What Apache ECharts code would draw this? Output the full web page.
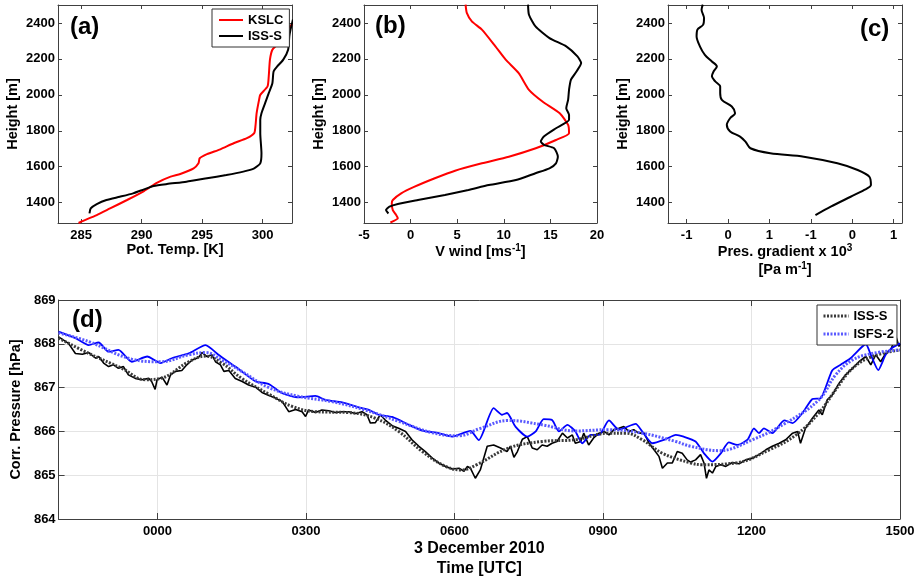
<!DOCTYPE html>
<html><head><meta charset="utf-8">
<script src="https://cdn.jsdelivr.net/npm/echarts@6/dist/echarts.min.js"></script>
<style>html,body{margin:0;padding:0;background:#fff}#c{width:921px;height:580px}</style>
</head><body><div id="c"></div>
<script>
// ---- tick definitions ----
const heightTicks = [1400,1600,1800,2000,2200,2400];
const tempTicks = [285,290,295,300];
const windTicks = [-5,0,5,10,15,20];
const gradTicks = [-1,0,1,2,3,4];
const gradTickLabels = ['-1','0','1','-1','0','1'];
const timeTicks = [0,3,6,9,12,15];
const timeTickLabels = ['0000','0300','0600','0900','1200','1500'];

// ---- (a) potential temperature profiles [K, m] ----
const kslcTemp = [[284.8,1287],[285.0,1294],[286.3,1331],[287.4,1368],[288.8,1415],[290.2,1465],[291.3,1512],[292.4,1545],[293.2,1560],[294.3,1591],[294.7,1619],[294.8,1647],[295.4,1670],[296.5,1697],[297.6,1731],[298.7,1759],[299.3,1787],[299.4,1824],[299.5,1898],[299.7,1972],[299.8,2000],[300.4,2047],[300.5,2103],[300.6,2196],[300.8,2251],[301.2,2279],[301.7,2316],[302.1,2372],[302.5,2395]];
const issTemp = [[285.7,1340],[285.8,1368],[286.3,1392],[287.1,1415],[288.2,1433],[289.3,1452],[290.2,1474],[291.0,1493],[292.1,1504],[293.7,1517],[295.4,1536],[297.0,1554],[298.4,1573],[299.3,1591],[299.8,1619],[299.9,1675],[299.8,1787],[299.8,1861],[299.9,1898],[300.2,1954],[300.5,2010],[300.8,2065],[300.9,2130],[301.2,2158],[301.7,2196],[302.1,2251],[302.2,2326],[302.3,2363],[302.5,2420]];

// ---- (b) V wind profiles [m/s, m] ----
const kslcWind = [[-2.17,1290],[-1.37,1313],[-1.55,1331],[-1.91,1359],[-2.02,1396],[-1.91,1415],[-1.01,1452],[0.43,1489],[2.6,1536],[4.77,1578],[7.65,1619],[10.54,1656],[13.43,1703],[15.6,1749],[17.0,1787],[16.9,1833],[16.0,1898],[14.15,1963],[12.7,2028],[11.6,2121],[10.2,2196],[9.1,2270],[7.65,2363],[6.57,2409],[6.03,2456],[5.9,2502]];
const issWind = [[-2.38,1340],[-2.64,1359],[-2.27,1378],[-1.37,1393],[0.79,1415],[3.68,1443],[6.2,1471],[8.4,1498],[11.3,1526],[13.4,1564],[14.9,1591],[15.6,1619],[15.8,1656],[15.4,1703],[14.3,1722],[13.97,1740],[14.3,1768],[15.6,1814],[17.0,1861],[17.0,1889],[16.7,1926],[16.9,1972],[17.0,2028],[17.2,2084],[17.8,2130],[18.3,2177],[17.9,2214],[16.7,2270],[14.9,2316],[13.4,2381],[12.7,2446],[12.6,2502]];

// ---- (c) pressure gradient profile [axis units, m] ----
const gradProfile = [[2.11,1331],[2.48,1378],[2.96,1433],[3.29,1471],[3.45,1498],[3.41,1545],[3.13,1582],[2.64,1619],[1.83,1656],[1.02,1675],[0.54,1703],[0.42,1740],[0.29,1768],[0.05,1796],[-0.03,1833],[0.05,1870],[0.17,1898],[0.09,1935],[-0.15,1972],[-0.19,2010],[-0.19,2047],[-0.31,2075],[-0.39,2103],[-0.35,2130],[-0.27,2158],[-0.39,2186],[-0.56,2223],[-0.68,2270],[-0.76,2326],[-0.74,2363],[-0.6,2391],[-0.58,2428],[-0.64,2474],[-0.61,2502]];

// ---- (d) corrected pressure time series [hours from 0000 UTC, hPa] ----
const issRaw = [[-2.0,868.16],[-1.8,868.01],[-1.66,867.78],[-1.52,867.76],[-1.39,867.80],[-1.25,867.67],[-1.19,867.71],[-1.09,867.56],[-0.99,867.48],[-0.89,867.52],[-0.79,867.44],[-0.69,867.48],[-0.59,867.29],[-0.45,867.21],[-0.32,867.18],[-0.18,867.21],[-0.12,867.14],[-0.05,866.96],[-0.01,867.18],[0.09,867.24],[0.19,867.06],[0.26,867.29],[0.36,867.37],[0.49,867.39],[0.59,867.52],[0.70,867.63],[0.83,867.69],[0.90,867.80],[1.0,867.71],[1.10,867.75],[1.17,867.59],[1.27,867.52],[1.34,867.37],[1.44,867.39],[1.57,867.21],[1.71,867.14],[1.84,867.06],[1.98,867.01],[2.11,866.89],[2.25,866.82],[2.38,866.76],[2.52,866.68],[2.65,866.45],[2.79,866.50],[2.92,866.45],[2.99,866.34],[3.05,866.49],[3.19,866.43],[3.32,866.49],[3.46,866.47],[3.59,866.43],[3.73,866.45],[3.86,866.45],[4.0,866.41],[4.13,866.45],[4.23,866.38],[4.30,866.19],[4.40,866.20],[4.50,866.38],[4.60,866.26],[4.74,866.13],[4.87,866.07],[5.01,866.0],[5.14,865.81],[5.28,865.66],[5.41,865.54],[5.55,865.39],[5.68,865.28],[5.82,865.20],[5.95,865.14],[6.09,865.16],[6.19,865.09],[6.26,865.20],[6.32,865.16],[6.42,864.93],[6.52,865.12],[6.66,865.66],[6.79,865.69],[6.93,865.62],[7.06,865.54],[7.13,865.66],[7.20,865.41],[7.27,865.54],[7.37,865.82],[7.47,865.88],[7.57,865.62],[7.67,865.58],[7.77,865.69],[7.87,865.66],[7.97,865.73],[8.07,865.77],[8.18,865.96],[8.28,865.85],[8.38,865.92],[8.44,865.73],[8.55,865.77],[8.61,865.96],[8.71,865.69],[8.81,865.85],[8.92,865.96],[9.02,866.0],[9.12,865.92],[9.22,866.04],[9.32,866.07],[9.42,866.11],[9.52,866.0],[9.62,866.04],[9.72,865.96],[9.83,865.96],[9.93,865.73],[10.03,865.58],[10.13,865.43],[10.20,865.16],[10.30,865.28],[10.40,865.28],[10.50,865.54],[10.60,865.50],[10.70,865.35],[10.77,865.30],[10.87,865.35],[10.97,865.47],[11.04,865.28],[11.09,864.93],[11.14,865.12],[11.21,865.05],[11.28,865.20],[11.38,865.24],[11.48,865.20],[11.61,865.29],[11.75,865.26],[11.88,865.35],[12.02,865.39],[12.15,865.47],[12.29,865.58],[12.42,865.66],[12.56,865.73],[12.69,865.81],[12.83,865.96],[12.93,866.0],[12.99,865.73],[13.09,866.07],[13.23,866.30],[13.36,866.49],[13.43,866.38],[13.53,866.72],[13.63,866.83],[13.77,867.10],[13.90,867.29],[14.04,867.44],[14.17,867.59],[14.31,867.71],[14.41,867.52],[14.51,867.75],[14.61,867.59],[14.71,867.78],[14.81,867.86],[14.92,868.16],[14.98,867.94],[15.0,868.0]];
const isfsRaw = [[-2.0,868.28],[-1.66,868.13],[-1.39,867.97],[-1.19,868.03],[-0.99,867.82],[-0.79,867.86],[-0.52,867.59],[-0.21,867.71],[0.06,867.56],[0.29,867.67],[0.63,867.78],[0.97,867.97],[1.23,867.75],[1.57,867.48],[1.98,867.14],[2.18,867.10],[2.28,867.06],[2.52,866.87],[2.85,866.78],[3.19,866.81],[3.39,866.72],[3.73,866.66],[4.13,866.53],[4.27,866.49],[4.47,866.38],[4.74,866.33],[5.08,866.15],[5.35,866.02],[5.68,865.96],[5.95,865.88],[6.32,866.01],[6.49,865.80],[6.79,866.53],[6.96,866.38],[7.06,866.42],[7.23,866.11],[7.47,865.88],[7.64,866.0],[7.80,866.28],[7.97,866.26],[8.11,866.0],[8.28,866.15],[8.44,866.0],[8.58,865.73],[8.75,865.92],[8.92,865.92],[9.12,866.25],[9.32,866.04],[9.66,866.17],[9.79,866.0],[10.0,865.73],[10.26,865.82],[10.47,865.92],[10.63,865.88],[10.87,865.77],[11.04,865.50],[11.21,865.31],[11.38,865.50],[11.54,865.75],[11.71,865.69],[11.92,865.81],[12.05,866.07],[12.15,865.96],[12.25,866.07],[12.42,865.96],[12.66,866.25],[12.83,866.19],[13.03,866.42],[13.23,866.74],[13.40,866.76],[13.63,867.39],[13.80,867.52],[14.0,867.67],[14.31,867.99],[14.41,867.75],[14.56,867.40],[14.71,867.75],[14.83,867.90],[15.0,868.01]];
const issSmooth = [[-2,868.13],[-1.39,867.78],[-0.72,867.44],[-0.25,867.18],[0.06,867.21],[0.63,867.59],[0.97,867.72],[1.3,867.56],[1.7,867.21],[2.25,866.85],[2.72,866.57],[3.19,866.45],[3.86,866.43],[4.4,866.3],[4.87,866.0],[5.35,865.54],[5.82,865.2],[6.15,865.12],[6.45,865.24],[7.09,865.62],[7.77,865.77],[8.44,865.81],[9.12,865.96],[9.46,865.96],[9.79,865.81],[10.2,865.5],[10.77,865.28],[11.0,865.24],[11.68,865.28],[12.36,865.58],[12.9,865.92],[13.36,866.42],[13.7,866.95],[14.04,867.44],[14.44,867.71],[15,867.86]];
const isfsSmooth = [[-2,868.25],[-1.39,868.05],[-0.52,867.65],[0.06,867.59],[0.63,867.75],[0.97,867.80],[1.3,867.63],[1.7,867.37],[2.25,867.0],[2.85,866.8],[3.52,866.68],[4.19,866.49],[4.87,866.23],[5.55,865.97],[6.09,865.9],[6.5,866.06],[7.09,866.25],[7.77,866.15],[8.44,866.01],[9.12,866.04],[9.79,865.96],[10.47,865.77],[10.77,865.66],[11.34,865.56],[12.02,865.81],[12.69,866.19],[13.36,866.72],[13.7,867.29],[14.04,867.63],[14.44,867.78],[15,867.86]];

// ---- styling & option construction ----
const F = "'Liberation Sans', Arial, Helvetica, sans-serif";
const AX = '#404040';
const lbl = {color:'#000', fontWeight:'bold', fontSize:13, fontFamily:F};
const nameStyle = {color:'#000', fontWeight:'bold', fontSize:14.5, fontFamily:F};
const supRich = {
  t:{color:'#000', fontWeight:'bold', fontSize:14.5, fontFamily:F, lineHeight:18},
  s:{color:'#000', fontWeight:'bold', fontSize:10, fontFamily:F, lineHeight:9, verticalAlign:'top'}
};

function ax(grid, pos, min, max, o) {
  o = o || {};
  const primary = (pos === 'bottom' || pos === 'left');
  const a = {
    type:'value', gridIndex:grid, position:pos, min:min, max:max,
    axisLine:{show:true, onZero:false, lineStyle:{color:AX, width:1}},
    axisTick:{show:true, inside:true, length:o.tickLen || 4, lineStyle:{color:AX, width:1}},
    axisLabel:Object.assign({show:primary, margin:o.margin || 4, formatter:v => String(v)}, lbl),
    splitLine:{show:!!o.split && primary, lineStyle:{color:'#e4e4e4', width:1}}
  };
  if (o.ticks) { a.axisTick.customValues = o.ticks; a.axisLabel.customValues = o.ticks; }
  if (o.interval) a.interval = o.interval;
  if (o.formatter) a.axisLabel.formatter = o.formatter;
  if (primary && o.name) {
    a.name = o.name; a.nameLocation = 'middle'; a.nameGap = o.nameGap;
    a.nameTextStyle = o.nameStyle || nameStyle;
  }
  return a;
}

const H0 = 1287, H1 = 2500;
const xAxis = [
  ax(0,'bottom',283.1,302.42,{ticks:tempTicks, name:'Pot. Temp. [K]', nameGap:17, margin:6}),
  ax(0,'top',283.1,302.42,{ticks:tempTicks}),
  ax(1,'bottom',-5,20,{interval:5, name:'{t|V wind [ms}{s|-1}{t|]}', nameGap:15, margin:6, nameStyle:{rich:supRich}}),
  ax(1,'top',-5,20,{interval:5}),
  ax(2,'bottom',-1.45,4.2,{ticks:gradTicks, formatter:v => gradTickLabels[gradTicks.indexOf(v)], name:'{t|Pres. gradient x 10}{s|3}\n{t|[Pa m}{s|-1}{t|]}', nameGap:14, margin:6, nameStyle:{rich:supRich}}),
  ax(2,'top',-1.45,4.2,{ticks:gradTicks}),
  ax(3,'bottom',-2,15,{ticks:timeTicks, split:true, tickLen:6, formatter:v => timeTickLabels[timeTicks.indexOf(v)], name:'3 December 2010\nTime [UTC]', nameGap:19, margin:6,
      nameStyle:{color:'#000', fontWeight:'bold', fontSize:16, fontFamily:F, lineHeight:20}}),
  ax(3,'top',-2,15,{ticks:timeTicks, tickLen:6})
];
const yAxis = [
  ax(0,'left',H0,H1,{ticks:heightTicks, name:'Height [m]', nameGap:38, margin:3}),
  ax(0,'right',H0,H1,{ticks:heightTicks}),
  ax(1,'left',H0,H1,{ticks:heightTicks, name:'Height [m]', nameGap:38, margin:3}),
  ax(1,'right',H0,H1,{ticks:heightTicks}),
  ax(2,'left',H0,H1,{ticks:heightTicks, name:'Height [m]', nameGap:38, margin:3}),
  ax(2,'right',H0,H1,{ticks:heightTicks}),
  ax(3,'left',864,869,{interval:1, split:true, tickLen:6, name:'Corr. Pressure [hPa]', nameGap:32, margin:3}),
  ax(3,'right',864,869,{interval:1, tickLen:6})
];

function line(name, xi, data, color, width, extra) {
  return Object.assign({
    type:'line', name:name, xAxisIndex:xi, yAxisIndex:xi, data:data,
    symbol:'none', showSymbol:false, silent:true, animation:false,
    lineStyle:{color:color, width:width}, itemStyle:{color:color}
  }, extra || {});
}

const titleStyle = {fontSize:24, fontWeight:'bold', fontFamily:F, color:'#000'};
const legendText = {color:'#000', fontWeight:'bold', fontSize:13, fontFamily:F, lineHeight:14};
const option = {
  backgroundColor:'#fff',
  animation:false,
  title:[
    {text:'(a)', left:70, top:15, padding:0, textStyle:titleStyle},
    {text:'(b)', left:375, top:14, padding:0, textStyle:titleStyle},
    {text:'(c)', left:860, top:17, padding:0, textStyle:titleStyle},
    {text:'(d)', left:72, top:308, padding:0, textStyle:titleStyle}
  ],
  legend:[
    {data:['KSLC','ISS-S'], orient:'vertical', left:212, top:9, padding:[4,6,4,6], itemGap:2,
     itemWidth:24, itemHeight:1, itemStyle:{opacity:0}, lineStyle:{width:2}, backgroundColor:'#fff', borderColor:'#333', borderWidth:1,
     textStyle:legendText, selectedMode:false},
    {data:['ISS-S smooth','ISFS-2 smooth'], orient:'vertical', left:817, top:305, padding:[4,3,4,5], itemGap:4,
     itemWidth:25, itemHeight:1, itemStyle:{opacity:0}, lineStyle:{width:3}, backgroundColor:'#fff', borderColor:'#333', borderWidth:1,
     formatter:n => n.replace(' smooth',''),
     textStyle:legendText, selectedMode:false}
  ],
  grid:[
    {left:58, top:5, width:234, height:218},
    {left:364, top:5, width:233, height:218},
    {left:668, top:5, width:234, height:218},
    {left:58, top:300, width:842, height:219}
  ],
  xAxis:xAxis,
  yAxis:yAxis,
  series:[
    line('KSLC',0,kslcTemp,'#ff0000',2,{smooth:0.2}),
    line('ISS-S',0,issTemp,'#000000',2,{smooth:0.2}),
    line('KSLC',2,kslcWind,'#ff0000',2,{smooth:0.2}),
    line('ISS-S',2,issWind,'#000000',2,{smooth:0.2}),
    line('grad',4,gradProfile,'#000000',2,{smooth:0.3}),
    line('ISS-S raw',6,issRaw,'#000000',1.6),
    line('ISFS-2 raw',6,isfsRaw,'#0000ff',1.8,{smooth:0.2}),
    line('ISS-S smooth',6,issSmooth,'#3a3a3a',3,{smooth:0.4, lineStyle:{color:'#3a3a3a', width:3, type:[2,1.5]}}),
    line('ISFS-2 smooth',6,isfsSmooth,'#5a5aff',3,{smooth:0.4, lineStyle:{color:'#5a5aff', width:3, type:[2,1.5]}})
  ]
};
const chart = echarts.init(document.getElementById('c'));
chart.setOption(option);
</script>
</body></html>
